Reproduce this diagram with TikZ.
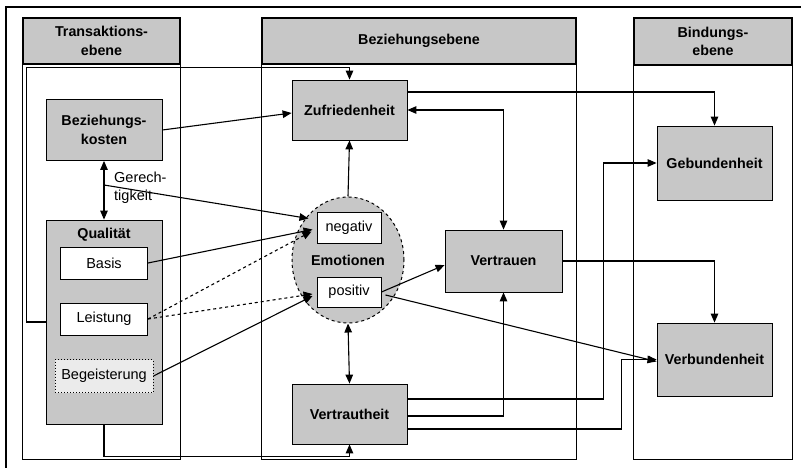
\documentclass[tikz,border=0pt]{standalone}
\usepackage{fontspec}
\setmainfont{Liberation Sans}
\usetikzlibrary{arrows.meta,shapes.geometric}
\begin{document}
\begin{tikzpicture}[x=1pt,y=-1pt,
  txt/.style={font=\fontsize{14.5}{18}\selectfont},
  bld/.style={font=\fontsize{14.3}{18.5}\selectfont\bfseries},
  hdr/.style={draw,line width=1.3pt,fill=black!22,bld,align=center,inner sep=0pt},
  gbox/.style={draw,line width=0.8pt,fill=black!22,bld,align=center,inner sep=0pt},
  wbox/.style={draw,line width=1pt,fill=white,txt,inner sep=0pt},
  arr/.style={line width=1.1pt,-{Triangle[length=9pt,width=7.5pt]}},
  darr/.style={line width=1.1pt,{Triangle[length=9pt,width=7.5pt]}-{Triangle[length=9pt,width=7.5pt]}}]%Ebenen
\useasboundingbox (0,0) rectangle (801,468);
\draw[line width=1.8pt] (6,470) -- (6,7) -- (803,7);
% Spalten
\node[hdr,minimum width=157pt,minimum height=46pt] (trans) at (101.5,41) {Transaktions-\\ebene};
\node[hdr,minimum width=314pt,minimum height=46pt] (bez) at (419,41) {Beziehungsebene};
\node[hdr,minimum width=158pt,minimum height=47pt] (bind) at (713,41.5) {Bindungs-\\ebene};
\draw[line width=1pt] (trans.south west) rectangle ([yshift=-395pt]trans.south east);
\draw[line width=1pt] (bez.south west) rectangle ([yshift=-395pt]bez.south east);
\draw[line width=1pt] (bind.south west) rectangle ([yshift=-394pt]bind.south east);
% Transaktionsebene
\node[gbox,minimum width=116pt,minimum height=61pt] (kosten) at (104,130) {Beziehungs-\\kosten};
\node[gbox,minimum width=116pt,minimum height=204pt,
  label={[bld,anchor=north,inner sep=0pt,yshift=-8pt]north:Qualität}] (qual) at (104,322) {};
\node[wbox,minimum width=87pt,minimum height=32pt] (basis) at (104,263) {Basis};
\node[wbox,minimum width=87pt,minimum height=32pt] (leist) at (104,319) {Leistung};
\node[wbox,fill=black!8,dotted,minimum width=98pt,minimum height=33pt] (begeist) at (104,376) {Begeisterung};
% Beziehungsebene
\node[gbox,minimum width=115pt,minimum height=60pt] (zuf) at (349.5,110) {Zufriedenheit};
\node[ellipse,draw,dashed,line width=1pt,fill=black!22,bld,inner sep=0pt,
  minimum width=112pt,minimum height=126pt] (emo) at (348,260) {Emotionen};
\node[wbox,minimum width=64pt,minimum height=31pt] (neg) at (349,227.5) {negativ};
\node[wbox,minimum width=64pt,minimum height=30pt] (pos) at (349,292) {positiv};
\node[gbox,minimum width=117pt,minimum height=62pt] (vertrauen) at (503.5,261) {Vertrauen};
\node[gbox,minimum width=115pt,minimum height=60pt] (vertraut) at (349.5,414) {Vertrautheit};
% Bindungsebene
\node[gbox,minimum width=115pt,minimum height=74pt] (geb) at (714.5,163) {Gebundenheit};
\node[gbox,minimum width=115pt,minimum height=73pt] (verb) at (714.5,359.5) {Verbundenheit};
% Pfeile
\draw[arr] (qual.west) -- ([xshift=-19pt]qual.west) |- ([yshift=12pt]zuf.north) -- (zuf.north);
\draw[arr] (kosten.east) -- ([yshift=-3pt]zuf.west);
\draw[darr] (kosten.south) -- (qual.north);
\coordinate (ger) at (104,185);
\node[txt,anchor=west,align=left,inner sep=0pt] (gerlab) at (114,188) {Gerech-\\tigkeit};
\draw[arr] (ger) -- ([xshift=-8pt,yshift=9pt]neg.west);
\draw[arr] (basis.east) -- ([xshift=-4pt,yshift=-2pt]neg.west);
\draw[arr,dashed] (leist.east) -- ([xshift=-5pt,yshift=-4pt]neg.west);
\draw[arr,dashed] (leist.east) -- ([xshift=-4pt,yshift=-2pt]pos.west);
\draw[arr] (begeist.east) -- ([xshift=-4pt,yshift=-4pt]pos.west);
\draw[arr] (emo.north) -- (zuf.south);
\draw[darr] (emo.south) -- (vertraut.north);
\draw[arr] (pos.east) -- ([yshift=-4pt]vertrauen.west);
\draw[arr] ([xshift=4pt,yshift=-3pt]pos.east) -- ([yshift=-2pt]verb.west);
\draw[darr] (zuf.east) -| (vertrauen.north);
\draw[arr] ([yshift=18pt]zuf.east) -| (geb.north);
\draw[arr] (vertrauen.east) -| (verb.north);
\draw[arr] ([yshift=-2pt]vertraut.east) -| (vertrauen.south);
\draw[arr] ([yshift=15pt]vertraut.east) -| ([xshift=-53pt]geb.west) -- (geb.west);
\draw[arr] ([yshift=-15pt]vertraut.east) -| ([xshift=-35pt]verb.west) -- (verb.west);
\draw[arr] (qual.south) |- ([yshift=-12pt]vertraut.south) -- (vertraut.south);
\end{tikzpicture}
\end{document}
